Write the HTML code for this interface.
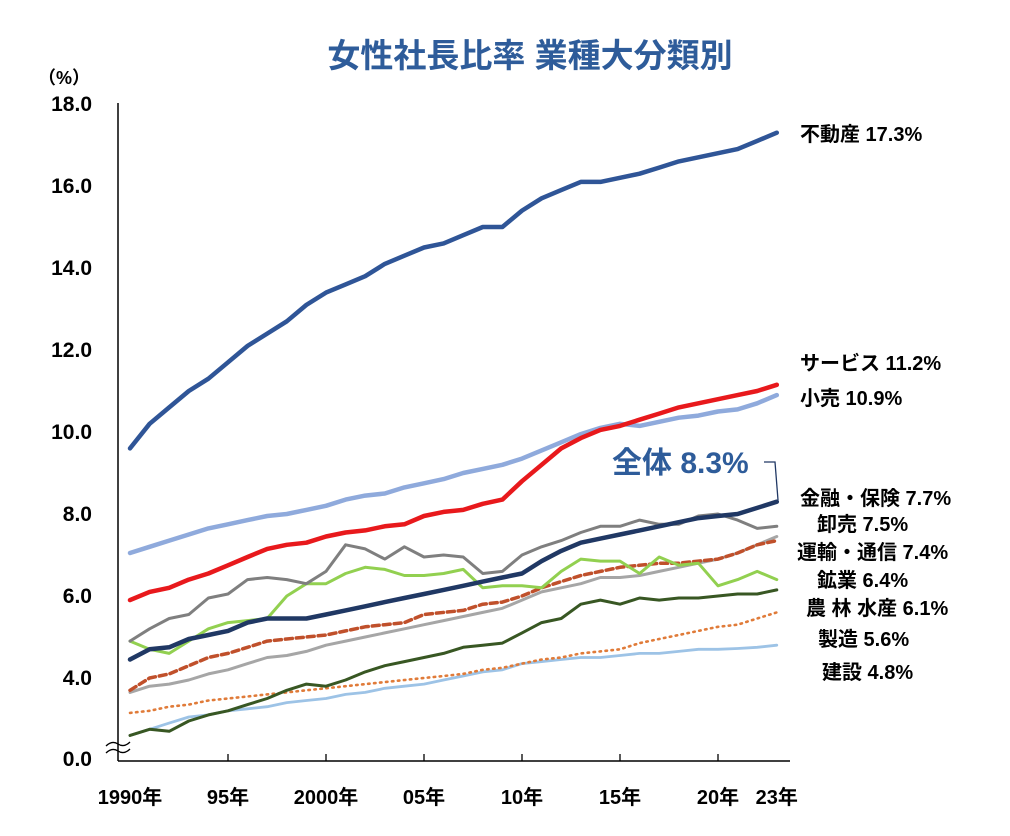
<!DOCTYPE html>
<html><head><meta charset="utf-8"><style>
body{margin:0;background:#fff;}
svg{display:block;font-family:"Liberation Sans","Noto Sans CJK JP",sans-serif;}
</style></head><body>
<svg id="chart" width="1010" height="836" viewBox="0 0 1010 836">
<text x="530" y="67" text-anchor="middle" font-size="33" font-weight="bold" fill="#2e5c9a">女性社長比率  業種大分類別</text>
<text x="38" y="84" font-size="18" font-weight="bold" fill="#000">（%）</text>
<g id="axes"></g>
<g id="lines"></g>
<g id="labels"></g>
</svg>
<script>
const years = [1990,1991,1992,1993,1994,1995,1996,1997,1998,1999,2000,2001,2002,2003,2004,2005,2006,2007,2008,2009,2010,2011,2012,2013,2014,2015,2016,2017,2018,2019,2020,2021,2022,2023];
const yTicks = [4,6,8,10,12,14,16,18];
const xTickYears = [1990,1995,2000,2005,2010,2015,2020,2023];
const xTickLabels = ["1990年","95年","2000年","05年","10年","15年","20年","23年"];
const realEstate = [9.6,10.2,10.6,11.0,11.3,11.7,12.1,12.4,12.7,13.1,13.4,13.6,13.8,14.1,14.3,14.5,14.6,14.8,15.0,15.0,15.4,15.7,15.9,16.1,16.1,16.2,16.3,16.45,16.6,16.7,16.8,16.9,17.1,17.3];
const service = [5.9,6.1,6.2,6.4,6.55,6.75,6.95,7.15,7.25,7.3,7.45,7.55,7.6,7.7,7.75,7.95,8.05,8.1,8.25,8.35,8.8,9.2,9.6,9.85,10.05,10.15,10.3,10.45,10.6,10.7,10.8,10.9,11.0,11.15];
const retail = [7.05,7.2,7.35,7.5,7.65,7.75,7.85,7.95,8.0,8.1,8.2,8.35,8.45,8.5,8.65,8.75,8.85,9.0,9.1,9.2,9.35,9.55,9.75,9.95,10.1,10.2,10.15,10.25,10.35,10.4,10.5,10.55,10.7,10.9];
const total = [4.45,4.7,4.75,4.95,5.05,5.15,5.35,5.45,5.45,5.45,5.55,5.65,5.75,5.85,5.95,6.05,6.15,6.25,6.35,6.45,6.55,6.85,7.1,7.3,7.4,7.5,7.6,7.7,7.8,7.9,7.95,8.0,8.15,8.3];
const finance = [4.9,5.2,5.45,5.55,5.95,6.05,6.4,6.45,6.4,6.3,6.6,7.25,7.15,6.9,7.2,6.95,7.0,6.95,6.55,6.6,7.0,7.2,7.35,7.55,7.7,7.7,7.85,7.75,7.75,7.95,8.0,7.85,7.65,7.7];
const mining = [4.9,4.7,4.6,4.9,5.2,5.35,5.4,5.45,6.0,6.3,6.3,6.55,6.7,6.65,6.5,6.5,6.55,6.65,6.2,6.25,6.25,6.2,6.6,6.9,6.85,6.85,6.55,6.95,6.75,6.8,6.25,6.4,6.6,6.4];
const transport = [3.7,4.0,4.1,4.3,4.5,4.6,4.75,4.9,4.95,5.0,5.05,5.15,5.25,5.3,5.35,5.55,5.6,5.65,5.8,5.85,6.0,6.2,6.35,6.5,6.6,6.7,6.75,6.8,6.8,6.85,6.9,7.05,7.25,7.35];
const wholesale = [3.65,3.8,3.85,3.95,4.1,4.2,4.35,4.5,4.55,4.65,4.8,4.9,5.0,5.1,5.2,5.3,5.4,5.5,5.6,5.7,5.9,6.1,6.2,6.3,6.45,6.45,6.5,6.6,6.7,6.8,6.9,7.05,7.25,7.45];
const manufacturing = [3.15,3.2,3.3,3.35,3.45,3.5,3.55,3.6,3.65,3.7,3.75,3.8,3.85,3.9,3.95,4.0,4.05,4.1,4.2,4.25,4.35,4.45,4.5,4.6,4.65,4.7,4.85,4.95,5.05,5.15,5.25,5.3,5.45,5.6];
const construction = [2.6,2.75,2.9,3.05,3.1,3.2,3.25,3.3,3.4,3.45,3.5,3.6,3.65,3.75,3.8,3.85,3.95,4.05,4.15,4.2,4.35,4.4,4.45,4.5,4.5,4.55,4.6,4.6,4.65,4.7,4.7,4.72,4.75,4.8];
const agriculture = [2.6,2.75,2.7,2.95,3.1,3.2,3.35,3.5,3.7,3.85,3.8,3.95,4.15,4.3,4.4,4.5,4.6,4.75,4.8,4.85,5.1,5.35,5.45,5.8,5.9,5.8,5.95,5.9,5.95,5.95,6.0,6.05,6.05,6.15];

const NS="http://www.w3.org/2000/svg";
const X = yr => 130 + (yr-1990)*19.6;
const Y = v => 678 - (v-4)*41;
function mk(tag, attrs, parent){const e=document.createElementNS(NS,tag);for(const k in attrs)e.setAttribute(k,attrs[k]);parent.appendChild(e);return e;}
const axes=document.getElementById('axes');
let e;
e=mk('line',{x1:118,y1:103,x2:118,y2:761,stroke:'#000','stroke-width':1.5},axes);


e=mk('line',{x1:118,y1:761,x2:790,y2:761,stroke:'#000','stroke-width':1.5},axes);


e=mk('path',{d:'M106,746 q6,-6 12,-2 t12,-2 M106,753 q6,-6 12,-2 t12,-2',fill:'none',stroke:'#000','stroke-width':1.3},axes);


yTicks.forEach(v=>{
  const t=mk('text',{x:92,y:Y(v)+7,'text-anchor':'end','font-size':21,'font-weight':'bold',fill:'#000'},axes);
  t.textContent=v.toFixed(1);
  
  
});
e=mk('text',{x:92,y:766,'text-anchor':'end','font-size':21,'font-weight':'bold',fill:'#000'},axes);
e.textContent='0.0';


xTickYears.forEach((yr,i)=>{
  if(i>0&&i<xTickYears.length-1){
    const tk=mk('line',{x1:X(yr),y1:754,x2:X(yr),y2:761,stroke:'#000','stroke-width':1.3},axes);
    
    
  }
  const t=mk('text',{x:X(yr),y:804,'text-anchor':'middle','font-size':20,'font-weight':'bold',fill:'#000'},axes);
  t.textContent=xTickLabels[i];
  
  
});
const lines=document.getElementById('lines');
const series=[
 ['construction-line',construction,'#9dc3e6',2.8,''],
 ['manufacturing-line',manufacturing,'#e07b39',2.6,'1.5 4.5'],
 ['agriculture-line',agriculture,'#385723',3,''],
 ['wholesale-line',wholesale,'#a6a6a6',3,''],
 ['transport-line',transport,'#c0502b',3.5,'7 4'],
 ['mining-line',mining,'#92d050',3,''],
 ['finance-line',finance,'#7f7f7f',3,''],
 ['retail-line',retail,'#8faadc',4.5,''],
 ['service-line',service,'#e8191c',4.5,''],
 ['total-line',total,'#203864',4.5,''],
 ['real-estate-line',realEstate,'#2f5597',4.5,'']
];
series.forEach(([name,vals,col,w,dash])=>{
  const d=vals.map((v,i)=>(i?'L':'M')+X(years[i]).toFixed(1)+','+Y(v).toFixed(1)).join(' ');
  const p=mk('path',{d:d,fill:'none',stroke:col,'stroke-width':w,'stroke-linejoin':'round','stroke-linecap':'round'},lines);
  if(dash)p.setAttribute('stroke-dasharray',dash);
  
  
});
const labels=document.getElementById('labels');
const lbl=[
 ['real-estate-label','不動産 17.3%',800,141],
 ['service-label','サービス 11.2%',800,370],
 ['retail-label','小売 10.9%',800,405],
 ['finance-label','金融・保険 7.7%',800,505],
 ['wholesale-label','卸売 7.5%',817,531],
 ['transport-label','運輸・通信 7.4%',797,559],
 ['mining-label','鉱業 6.4%',817,587],
 ['agriculture-label','農 林 水産 6.1%',806,615],
 ['manufacturing-label','製造 5.6%',818,646],
 ['construction-label','建設 4.8%',822,679]
];
lbl.forEach(([n,t,x,y])=>{
  const el=mk('text',{x:x,y:y,'font-size':20,'font-weight':'bold',fill:'#000'},labels);
  el.textContent=t;
  
  
});
e=mk('text',{x:612,y:473,'font-size':30,'font-weight':'bold',fill:'#2e5c9a'},labels);
e.textContent='全体 8.3%';


e=mk('path',{d:'M764,462 L775,462 L778,500',fill:'none',stroke:'#203864','stroke-width':1.3},labels);


</script>
</body></html>
